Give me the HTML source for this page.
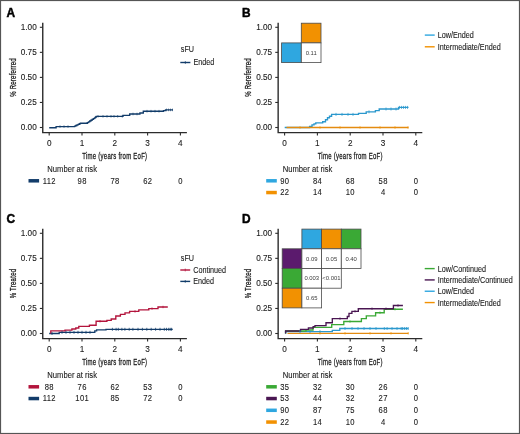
<!DOCTYPE html>
<html><head><meta charset="utf-8"><style>
html,body{margin:0;padding:0;background:#fff;}
body{width:520px;height:434px;overflow:hidden;}
svg{display:block;font-family:"Liberation Sans", sans-serif;}
#w{width:520px;height:434px;will-change:transform;opacity:0.999;}
text{stroke:#1a1a1a;stroke-width:0.1px;}
</style></head><body>
<div id="w"><svg width="520" height="434" viewBox="0 0 520 434">
<g>
<rect x="0" y="0" width="520" height="434" fill="#fff"/>
<g transform="translate(0,0)">
<text x="6.6" y="16.5" font-size="11.9" font-weight="bold" fill="#000" style="stroke:#000;stroke-width:0.45px">A</text>
<path d="M42.75 22.7 V132.6 H186.9" fill="none" stroke="#2c2c2c" stroke-width="1.4"/>
<path d="M39.85 127.5 H42.75" stroke="#2c2c2c" stroke-width="1.1"/>
<text x="36.7" y="130.45" font-size="8.2" text-anchor="end" fill="#1a1a1a">0.00</text>
<path d="M39.85 102.45 H42.75" stroke="#2c2c2c" stroke-width="1.1"/>
<text x="36.7" y="105.4" font-size="8.2" text-anchor="end" fill="#1a1a1a">0.25</text>
<path d="M39.85 77.4 H42.75" stroke="#2c2c2c" stroke-width="1.1"/>
<text x="36.7" y="80.35000000000001" font-size="8.2" text-anchor="end" fill="#1a1a1a">0.50</text>
<path d="M39.85 52.349999999999994 H42.75" stroke="#2c2c2c" stroke-width="1.1"/>
<text x="36.7" y="55.3" font-size="8.2" text-anchor="end" fill="#1a1a1a">0.75</text>
<path d="M39.85 27.299999999999997 H42.75" stroke="#2c2c2c" stroke-width="1.1"/>
<text x="36.7" y="30.249999999999996" font-size="8.2" text-anchor="end" fill="#1a1a1a">1.00</text>
<path d="M49.2 132.6 V135.6" stroke="#2c2c2c" stroke-width="1.1"/>
<text x="49.2" y="145.9" font-size="8.2" text-anchor="middle" fill="#1a1a1a">0</text>
<path d="M82.0 132.6 V135.6" stroke="#2c2c2c" stroke-width="1.1"/>
<text x="82.0" y="145.9" font-size="8.2" text-anchor="middle" fill="#1a1a1a">1</text>
<path d="M114.8 132.6 V135.6" stroke="#2c2c2c" stroke-width="1.1"/>
<text x="114.8" y="145.9" font-size="8.2" text-anchor="middle" fill="#1a1a1a">2</text>
<path d="M147.6 132.6 V135.6" stroke="#2c2c2c" stroke-width="1.1"/>
<text x="147.6" y="145.9" font-size="8.2" text-anchor="middle" fill="#1a1a1a">3</text>
<path d="M180.39999999999998 132.6 V135.6" stroke="#2c2c2c" stroke-width="1.1"/>
<text x="180.39999999999998" y="145.9" font-size="8.2" text-anchor="middle" fill="#1a1a1a">4</text>
<text transform="translate(114.8,159.0) scale(0.6067,1)" font-size="9.9" letter-spacing="0.42" style="stroke-width:0.3px" text-anchor="middle" fill="#1a1a1a">Time (years from EoF)</text>
<text transform="translate(15.8,77.5) rotate(-90) scale(0.607,1)" font-size="9.9" letter-spacing="0.42" style="stroke-width:0.3px" text-anchor="middle" fill="#1a1a1a">% Rereferred</text>
<text transform="translate(47.3,171.6) scale(0.928,1)" font-size="8.25" fill="#1a1a1a">Number at risk</text>
<rect x="28.5" y="179.05" width="10.6" height="3.5" fill="#123c6a"/>
<text transform="translate(49.37,183.70) scale(0.93,1)" font-size="8.2" letter-spacing="0.38" text-anchor="middle" fill="#1a1a1a">112</text>
<text transform="translate(82.17,183.70) scale(0.93,1)" font-size="8.2" letter-spacing="0.38" text-anchor="middle" fill="#1a1a1a">98</text>
<text transform="translate(114.97,183.70) scale(0.93,1)" font-size="8.2" letter-spacing="0.38" text-anchor="middle" fill="#1a1a1a">78</text>
<text transform="translate(147.77,183.70) scale(0.93,1)" font-size="8.2" letter-spacing="0.38" text-anchor="middle" fill="#1a1a1a">62</text>
<text transform="translate(180.57,183.70) scale(0.93,1)" font-size="8.2" letter-spacing="0.38" text-anchor="middle" fill="#1a1a1a">0</text>
</g>
<g transform="translate(235.4,0)">
<text x="6.6" y="16.5" font-size="11.9" font-weight="bold" fill="#000" style="stroke:#000;stroke-width:0.45px">B</text>
<path d="M42.75 22.7 V132.6 H186.9" fill="none" stroke="#2c2c2c" stroke-width="1.4"/>
<path d="M39.85 127.5 H42.75" stroke="#2c2c2c" stroke-width="1.1"/>
<text x="36.7" y="130.45" font-size="8.2" text-anchor="end" fill="#1a1a1a">0.00</text>
<path d="M39.85 102.45 H42.75" stroke="#2c2c2c" stroke-width="1.1"/>
<text x="36.7" y="105.4" font-size="8.2" text-anchor="end" fill="#1a1a1a">0.25</text>
<path d="M39.85 77.4 H42.75" stroke="#2c2c2c" stroke-width="1.1"/>
<text x="36.7" y="80.35000000000001" font-size="8.2" text-anchor="end" fill="#1a1a1a">0.50</text>
<path d="M39.85 52.349999999999994 H42.75" stroke="#2c2c2c" stroke-width="1.1"/>
<text x="36.7" y="55.3" font-size="8.2" text-anchor="end" fill="#1a1a1a">0.75</text>
<path d="M39.85 27.299999999999997 H42.75" stroke="#2c2c2c" stroke-width="1.1"/>
<text x="36.7" y="30.249999999999996" font-size="8.2" text-anchor="end" fill="#1a1a1a">1.00</text>
<path d="M49.2 132.6 V135.6" stroke="#2c2c2c" stroke-width="1.1"/>
<text x="49.2" y="145.9" font-size="8.2" text-anchor="middle" fill="#1a1a1a">0</text>
<path d="M82.0 132.6 V135.6" stroke="#2c2c2c" stroke-width="1.1"/>
<text x="82.0" y="145.9" font-size="8.2" text-anchor="middle" fill="#1a1a1a">1</text>
<path d="M114.8 132.6 V135.6" stroke="#2c2c2c" stroke-width="1.1"/>
<text x="114.8" y="145.9" font-size="8.2" text-anchor="middle" fill="#1a1a1a">2</text>
<path d="M147.6 132.6 V135.6" stroke="#2c2c2c" stroke-width="1.1"/>
<text x="147.6" y="145.9" font-size="8.2" text-anchor="middle" fill="#1a1a1a">3</text>
<path d="M180.39999999999998 132.6 V135.6" stroke="#2c2c2c" stroke-width="1.1"/>
<text x="180.39999999999998" y="145.9" font-size="8.2" text-anchor="middle" fill="#1a1a1a">4</text>
<text transform="translate(114.8,159.0) scale(0.6067,1)" font-size="9.9" letter-spacing="0.42" style="stroke-width:0.3px" text-anchor="middle" fill="#1a1a1a">Time (years from EoF)</text>
<text transform="translate(15.8,77.5) rotate(-90) scale(0.607,1)" font-size="9.9" letter-spacing="0.42" style="stroke-width:0.3px" text-anchor="middle" fill="#1a1a1a">% Rereferred</text>
<text transform="translate(47.3,171.6) scale(0.928,1)" font-size="8.25" fill="#1a1a1a">Number at risk</text>
<rect x="30.8" y="179.05" width="10.6" height="3.5" fill="#2fa7e0"/>
<text transform="translate(49.37,183.70) scale(0.93,1)" font-size="8.2" letter-spacing="0.38" text-anchor="middle" fill="#1a1a1a">90</text>
<text transform="translate(82.17,183.70) scale(0.93,1)" font-size="8.2" letter-spacing="0.38" text-anchor="middle" fill="#1a1a1a">84</text>
<text transform="translate(114.97,183.70) scale(0.93,1)" font-size="8.2" letter-spacing="0.38" text-anchor="middle" fill="#1a1a1a">68</text>
<text transform="translate(147.77,183.70) scale(0.93,1)" font-size="8.2" letter-spacing="0.38" text-anchor="middle" fill="#1a1a1a">58</text>
<text transform="translate(180.57,183.70) scale(0.93,1)" font-size="8.2" letter-spacing="0.38" text-anchor="middle" fill="#1a1a1a">0</text>
<rect x="30.8" y="190.8" width="10.6" height="3.5" fill="#f29100"/>
<text transform="translate(49.37,195.45) scale(0.93,1)" font-size="8.2" letter-spacing="0.38" text-anchor="middle" fill="#1a1a1a">22</text>
<text transform="translate(82.17,195.45) scale(0.93,1)" font-size="8.2" letter-spacing="0.38" text-anchor="middle" fill="#1a1a1a">14</text>
<text transform="translate(114.97,195.45) scale(0.93,1)" font-size="8.2" letter-spacing="0.38" text-anchor="middle" fill="#1a1a1a">10</text>
<text transform="translate(147.77,195.45) scale(0.93,1)" font-size="8.2" letter-spacing="0.38" text-anchor="middle" fill="#1a1a1a">4</text>
<text transform="translate(180.57,195.45) scale(0.93,1)" font-size="8.2" letter-spacing="0.38" text-anchor="middle" fill="#1a1a1a">0</text>
</g>
<g transform="translate(0,206.0)">
<text x="6.6" y="16.5" font-size="11.9" font-weight="bold" fill="#000" style="stroke:#000;stroke-width:0.45px">C</text>
<path d="M42.75 22.7 V132.6 H186.9" fill="none" stroke="#2c2c2c" stroke-width="1.4"/>
<path d="M39.85 127.5 H42.75" stroke="#2c2c2c" stroke-width="1.1"/>
<text x="36.7" y="130.45" font-size="8.2" text-anchor="end" fill="#1a1a1a">0.00</text>
<path d="M39.85 102.45 H42.75" stroke="#2c2c2c" stroke-width="1.1"/>
<text x="36.7" y="105.4" font-size="8.2" text-anchor="end" fill="#1a1a1a">0.25</text>
<path d="M39.85 77.4 H42.75" stroke="#2c2c2c" stroke-width="1.1"/>
<text x="36.7" y="80.35000000000001" font-size="8.2" text-anchor="end" fill="#1a1a1a">0.50</text>
<path d="M39.85 52.349999999999994 H42.75" stroke="#2c2c2c" stroke-width="1.1"/>
<text x="36.7" y="55.3" font-size="8.2" text-anchor="end" fill="#1a1a1a">0.75</text>
<path d="M39.85 27.299999999999997 H42.75" stroke="#2c2c2c" stroke-width="1.1"/>
<text x="36.7" y="30.249999999999996" font-size="8.2" text-anchor="end" fill="#1a1a1a">1.00</text>
<path d="M49.2 132.6 V135.6" stroke="#2c2c2c" stroke-width="1.1"/>
<text x="49.2" y="145.9" font-size="8.2" text-anchor="middle" fill="#1a1a1a">0</text>
<path d="M82.0 132.6 V135.6" stroke="#2c2c2c" stroke-width="1.1"/>
<text x="82.0" y="145.9" font-size="8.2" text-anchor="middle" fill="#1a1a1a">1</text>
<path d="M114.8 132.6 V135.6" stroke="#2c2c2c" stroke-width="1.1"/>
<text x="114.8" y="145.9" font-size="8.2" text-anchor="middle" fill="#1a1a1a">2</text>
<path d="M147.6 132.6 V135.6" stroke="#2c2c2c" stroke-width="1.1"/>
<text x="147.6" y="145.9" font-size="8.2" text-anchor="middle" fill="#1a1a1a">3</text>
<path d="M180.39999999999998 132.6 V135.6" stroke="#2c2c2c" stroke-width="1.1"/>
<text x="180.39999999999998" y="145.9" font-size="8.2" text-anchor="middle" fill="#1a1a1a">4</text>
<text transform="translate(114.8,159.0) scale(0.6067,1)" font-size="9.9" letter-spacing="0.42" style="stroke-width:0.3px" text-anchor="middle" fill="#1a1a1a">Time (years from EoF)</text>
<text transform="translate(15.8,77.5) rotate(-90) scale(0.607,1)" font-size="9.9" letter-spacing="0.42" style="stroke-width:0.3px" text-anchor="middle" fill="#1a1a1a">% Treated</text>
<text transform="translate(47.3,171.6) scale(0.928,1)" font-size="8.25" fill="#1a1a1a">Number at risk</text>
<rect x="28.5" y="179.05" width="10.6" height="3.5" fill="#b3143c"/>
<text transform="translate(49.37,183.70) scale(0.93,1)" font-size="8.2" letter-spacing="0.38" text-anchor="middle" fill="#1a1a1a">88</text>
<text transform="translate(82.17,183.70) scale(0.93,1)" font-size="8.2" letter-spacing="0.38" text-anchor="middle" fill="#1a1a1a">76</text>
<text transform="translate(114.97,183.70) scale(0.93,1)" font-size="8.2" letter-spacing="0.38" text-anchor="middle" fill="#1a1a1a">62</text>
<text transform="translate(147.77,183.70) scale(0.93,1)" font-size="8.2" letter-spacing="0.38" text-anchor="middle" fill="#1a1a1a">53</text>
<text transform="translate(180.57,183.70) scale(0.93,1)" font-size="8.2" letter-spacing="0.38" text-anchor="middle" fill="#1a1a1a">0</text>
<rect x="28.5" y="190.8" width="10.6" height="3.5" fill="#123c6a"/>
<text transform="translate(49.37,195.45) scale(0.93,1)" font-size="8.2" letter-spacing="0.38" text-anchor="middle" fill="#1a1a1a">112</text>
<text transform="translate(82.17,195.45) scale(0.93,1)" font-size="8.2" letter-spacing="0.38" text-anchor="middle" fill="#1a1a1a">101</text>
<text transform="translate(114.97,195.45) scale(0.93,1)" font-size="8.2" letter-spacing="0.38" text-anchor="middle" fill="#1a1a1a">85</text>
<text transform="translate(147.77,195.45) scale(0.93,1)" font-size="8.2" letter-spacing="0.38" text-anchor="middle" fill="#1a1a1a">72</text>
<text transform="translate(180.57,195.45) scale(0.93,1)" font-size="8.2" letter-spacing="0.38" text-anchor="middle" fill="#1a1a1a">0</text>
</g>
<g transform="translate(235.4,206.0)">
<text x="6.6" y="16.5" font-size="11.9" font-weight="bold" fill="#000" style="stroke:#000;stroke-width:0.45px">D</text>
<path d="M42.75 22.7 V132.6 H186.9" fill="none" stroke="#2c2c2c" stroke-width="1.4"/>
<path d="M39.85 127.5 H42.75" stroke="#2c2c2c" stroke-width="1.1"/>
<text x="36.7" y="130.45" font-size="8.2" text-anchor="end" fill="#1a1a1a">0.00</text>
<path d="M39.85 102.45 H42.75" stroke="#2c2c2c" stroke-width="1.1"/>
<text x="36.7" y="105.4" font-size="8.2" text-anchor="end" fill="#1a1a1a">0.25</text>
<path d="M39.85 77.4 H42.75" stroke="#2c2c2c" stroke-width="1.1"/>
<text x="36.7" y="80.35000000000001" font-size="8.2" text-anchor="end" fill="#1a1a1a">0.50</text>
<path d="M39.85 52.349999999999994 H42.75" stroke="#2c2c2c" stroke-width="1.1"/>
<text x="36.7" y="55.3" font-size="8.2" text-anchor="end" fill="#1a1a1a">0.75</text>
<path d="M39.85 27.299999999999997 H42.75" stroke="#2c2c2c" stroke-width="1.1"/>
<text x="36.7" y="30.249999999999996" font-size="8.2" text-anchor="end" fill="#1a1a1a">1.00</text>
<path d="M49.2 132.6 V135.6" stroke="#2c2c2c" stroke-width="1.1"/>
<text x="49.2" y="145.9" font-size="8.2" text-anchor="middle" fill="#1a1a1a">0</text>
<path d="M82.0 132.6 V135.6" stroke="#2c2c2c" stroke-width="1.1"/>
<text x="82.0" y="145.9" font-size="8.2" text-anchor="middle" fill="#1a1a1a">1</text>
<path d="M114.8 132.6 V135.6" stroke="#2c2c2c" stroke-width="1.1"/>
<text x="114.8" y="145.9" font-size="8.2" text-anchor="middle" fill="#1a1a1a">2</text>
<path d="M147.6 132.6 V135.6" stroke="#2c2c2c" stroke-width="1.1"/>
<text x="147.6" y="145.9" font-size="8.2" text-anchor="middle" fill="#1a1a1a">3</text>
<path d="M180.39999999999998 132.6 V135.6" stroke="#2c2c2c" stroke-width="1.1"/>
<text x="180.39999999999998" y="145.9" font-size="8.2" text-anchor="middle" fill="#1a1a1a">4</text>
<text transform="translate(114.8,159.0) scale(0.6067,1)" font-size="9.9" letter-spacing="0.42" style="stroke-width:0.3px" text-anchor="middle" fill="#1a1a1a">Time (years from EoF)</text>
<text transform="translate(15.8,77.5) rotate(-90) scale(0.607,1)" font-size="9.9" letter-spacing="0.42" style="stroke-width:0.3px" text-anchor="middle" fill="#1a1a1a">% Treated</text>
<text transform="translate(47.3,171.6) scale(0.928,1)" font-size="8.25" fill="#1a1a1a">Number at risk</text>
<rect x="30.8" y="179.05" width="10.6" height="3.5" fill="#3aa935"/>
<text transform="translate(49.37,183.70) scale(0.93,1)" font-size="8.2" letter-spacing="0.38" text-anchor="middle" fill="#1a1a1a">35</text>
<text transform="translate(82.17,183.70) scale(0.93,1)" font-size="8.2" letter-spacing="0.38" text-anchor="middle" fill="#1a1a1a">32</text>
<text transform="translate(114.97,183.70) scale(0.93,1)" font-size="8.2" letter-spacing="0.38" text-anchor="middle" fill="#1a1a1a">30</text>
<text transform="translate(147.77,183.70) scale(0.93,1)" font-size="8.2" letter-spacing="0.38" text-anchor="middle" fill="#1a1a1a">26</text>
<text transform="translate(180.57,183.70) scale(0.93,1)" font-size="8.2" letter-spacing="0.38" text-anchor="middle" fill="#1a1a1a">0</text>
<rect x="30.8" y="190.8" width="10.6" height="3.5" fill="#4a1652"/>
<text transform="translate(49.37,195.45) scale(0.93,1)" font-size="8.2" letter-spacing="0.38" text-anchor="middle" fill="#1a1a1a">53</text>
<text transform="translate(82.17,195.45) scale(0.93,1)" font-size="8.2" letter-spacing="0.38" text-anchor="middle" fill="#1a1a1a">44</text>
<text transform="translate(114.97,195.45) scale(0.93,1)" font-size="8.2" letter-spacing="0.38" text-anchor="middle" fill="#1a1a1a">32</text>
<text transform="translate(147.77,195.45) scale(0.93,1)" font-size="8.2" letter-spacing="0.38" text-anchor="middle" fill="#1a1a1a">27</text>
<text transform="translate(180.57,195.45) scale(0.93,1)" font-size="8.2" letter-spacing="0.38" text-anchor="middle" fill="#1a1a1a">0</text>
<rect x="30.8" y="202.55" width="10.6" height="3.5" fill="#2fa7e0"/>
<text transform="translate(49.37,207.20) scale(0.93,1)" font-size="8.2" letter-spacing="0.38" text-anchor="middle" fill="#1a1a1a">90</text>
<text transform="translate(82.17,207.20) scale(0.93,1)" font-size="8.2" letter-spacing="0.38" text-anchor="middle" fill="#1a1a1a">87</text>
<text transform="translate(114.97,207.20) scale(0.93,1)" font-size="8.2" letter-spacing="0.38" text-anchor="middle" fill="#1a1a1a">75</text>
<text transform="translate(147.77,207.20) scale(0.93,1)" font-size="8.2" letter-spacing="0.38" text-anchor="middle" fill="#1a1a1a">68</text>
<text transform="translate(180.57,207.20) scale(0.93,1)" font-size="8.2" letter-spacing="0.38" text-anchor="middle" fill="#1a1a1a">0</text>
<rect x="30.8" y="214.3" width="10.6" height="3.5" fill="#f29100"/>
<text transform="translate(49.37,218.95) scale(0.93,1)" font-size="8.2" letter-spacing="0.38" text-anchor="middle" fill="#1a1a1a">22</text>
<text transform="translate(82.17,218.95) scale(0.93,1)" font-size="8.2" letter-spacing="0.38" text-anchor="middle" fill="#1a1a1a">14</text>
<text transform="translate(114.97,218.95) scale(0.93,1)" font-size="8.2" letter-spacing="0.38" text-anchor="middle" fill="#1a1a1a">10</text>
<text transform="translate(147.77,218.95) scale(0.93,1)" font-size="8.2" letter-spacing="0.38" text-anchor="middle" fill="#1a1a1a">4</text>
<text transform="translate(180.57,218.95) scale(0.93,1)" font-size="8.2" letter-spacing="0.38" text-anchor="middle" fill="#1a1a1a">0</text>
</g>
<path d="M49.2 127.7 H56.1 V126.60000000000001 H74.6 V126.10000000000001 H75.8 V125.5 H77.0 V124.9 H78.2 V124.3 H79.3 V123.7 H80.4 V123.2 H87.3 V122.60000000000001 H88.5 V121.8 H89.7 V121.0 H90.9 V120.2 H92.1 V119.4 H93.3 V118.60000000000001 H94.5 V117.8 H95.5 V117.0 H96.3 V116.3 H123.0 V115.3 H129.7 V114.0 H139.9 V113.0 H143.3 V111.2 H163.5 V110.60000000000001 H165.5 V109.9 H172.9" fill="none" stroke="#123c6a" stroke-width="1.35" />
<path d="M60 125.30 V127.90" stroke="#123c6a" stroke-width="0.6"/>
<path d="M64 125.30 V127.90" stroke="#123c6a" stroke-width="0.6"/>
<path d="M68 125.30 V127.90" stroke="#123c6a" stroke-width="0.6"/>
<path d="M98 115.00 V117.60" stroke="#123c6a" stroke-width="0.6"/>
<path d="M103 115.00 V117.60" stroke="#123c6a" stroke-width="0.6"/>
<path d="M107 115.00 V117.60" stroke="#123c6a" stroke-width="0.6"/>
<path d="M111 115.00 V117.60" stroke="#123c6a" stroke-width="0.6"/>
<path d="M114 115.00 V117.60" stroke="#123c6a" stroke-width="0.6"/>
<path d="M117.7 115.00 V117.60" stroke="#123c6a" stroke-width="0.6"/>
<path d="M122.3 115.00 V117.60" stroke="#123c6a" stroke-width="0.6"/>
<path d="M133 112.70 V115.30" stroke="#123c6a" stroke-width="0.6"/>
<path d="M137 112.70 V115.30" stroke="#123c6a" stroke-width="0.6"/>
<path d="M147 109.90 V112.50" stroke="#123c6a" stroke-width="0.6"/>
<path d="M151 109.90 V112.50" stroke="#123c6a" stroke-width="0.6"/>
<path d="M155 109.90 V112.50" stroke="#123c6a" stroke-width="0.6"/>
<path d="M159 109.90 V112.50" stroke="#123c6a" stroke-width="0.6"/>
<path d="M166.5 108.60 V111.20" stroke="#123c6a" stroke-width="0.6"/>
<path d="M168.5 108.60 V111.20" stroke="#123c6a" stroke-width="0.6"/>
<path d="M170.5 108.60 V111.20" stroke="#123c6a" stroke-width="0.6"/>
<path d="M172.5 108.60 V111.20" stroke="#123c6a" stroke-width="0.6"/>
<path d="M284.7 127.5 H309.6 V126.4 H312.0 V124.8 H314.0 V123.8 H315.8 V122.9 H322.7 V121.7 H325.5 V119.7 H327.5 V117.7 H329.5 V116.2 H331.6 V114.4 H358.5 V113.4 H366.2 V111.8 H375.4 V110.60000000000001 H379.2 V109.0 H398.5 V107.4 H408.5" fill="none" stroke="#2b98cd" stroke-width="1.35" />
<path d="M286.5 127.5 H408.5" fill="none" stroke="#e48b10" stroke-width="1.35" />
<path d="M336 112.90 V115.90" stroke="#2b98cd" stroke-width="0.75"/>
<path d="M342 112.90 V115.90" stroke="#2b98cd" stroke-width="0.75"/>
<path d="M348 112.90 V115.90" stroke="#2b98cd" stroke-width="0.75"/>
<path d="M353 112.90 V115.90" stroke="#2b98cd" stroke-width="0.75"/>
<path d="M369 110.30 V113.30" stroke="#2b98cd" stroke-width="0.75"/>
<path d="M386 107.50 V110.50" stroke="#2b98cd" stroke-width="0.75"/>
<path d="M391 107.50 V110.50" stroke="#2b98cd" stroke-width="0.75"/>
<path d="M396 107.50 V110.50" stroke="#2b98cd" stroke-width="0.75"/>
<path d="M399.5 105.90 V108.90" stroke="#2b98cd" stroke-width="0.75"/>
<path d="M401.5 105.90 V108.90" stroke="#2b98cd" stroke-width="0.75"/>
<path d="M403.5 105.90 V108.90" stroke="#2b98cd" stroke-width="0.75"/>
<path d="M405.5 105.90 V108.90" stroke="#2b98cd" stroke-width="0.75"/>
<path d="M407.5 105.90 V108.90" stroke="#2b98cd" stroke-width="0.75"/>
<path d="M300 126.30 V128.70" stroke="#f29100" stroke-width="0.75"/>
<path d="M320 126.30 V128.70" stroke="#f29100" stroke-width="0.75"/>
<path d="M340 126.30 V128.70" stroke="#f29100" stroke-width="0.75"/>
<path d="M360 126.30 V128.70" stroke="#f29100" stroke-width="0.75"/>
<path d="M380 126.30 V128.70" stroke="#f29100" stroke-width="0.75"/>
<path d="M395 126.30 V128.70" stroke="#f29100" stroke-width="0.75"/>
<path d="M408 126.30 V128.70" stroke="#f29100" stroke-width="0.75"/>
<path d="M49.2 333.5 H59.2 V332.3 H94.8 V330.8 H96.6 V329.8 H106.0 V329.3 H172.7" fill="none" stroke="#123c6a" stroke-width="1.35" />
<path d="M50.8 333.5 H50.8 V330.9 H65.0 V330.09999999999997 H71.9 V329.0 H75.8 V328.0 H78.8 V326.4 H89.4 V325.2 H96.1 V321.2 H106.9 V320.4 H111.2 V319.0 H115.8 V316.0 H120.4 V314.4 H125.0 V312.9 H129.6 V311.4 H138.8 V309.8 H148.8 V308.59999999999997 H158.0 V307.0 H167.8" fill="none" stroke="#b3143c" stroke-width="1.35" />
<path d="M52 332.00 V335.00" stroke="#123c6a" stroke-width="0.75"/>
<path d="M62 330.80 V333.80" stroke="#123c6a" stroke-width="0.75"/>
<path d="M66 330.80 V333.80" stroke="#123c6a" stroke-width="0.75"/>
<path d="M70 330.80 V333.80" stroke="#123c6a" stroke-width="0.75"/>
<path d="M74 330.80 V333.80" stroke="#123c6a" stroke-width="0.75"/>
<path d="M78 330.80 V333.80" stroke="#123c6a" stroke-width="0.75"/>
<path d="M82 330.80 V333.80" stroke="#123c6a" stroke-width="0.75"/>
<path d="M86 330.80 V333.80" stroke="#123c6a" stroke-width="0.75"/>
<path d="M90 330.80 V333.80" stroke="#123c6a" stroke-width="0.75"/>
<path d="M112.4 327.80 V330.80" stroke="#123c6a" stroke-width="0.75"/>
<path d="M116.1 327.80 V330.80" stroke="#123c6a" stroke-width="0.75"/>
<path d="M118.3 327.80 V330.80" stroke="#123c6a" stroke-width="0.75"/>
<path d="M121.9 327.80 V330.80" stroke="#123c6a" stroke-width="0.75"/>
<path d="M124.9 327.80 V330.80" stroke="#123c6a" stroke-width="0.75"/>
<path d="M129.2 327.80 V330.80" stroke="#123c6a" stroke-width="0.75"/>
<path d="M132.9 327.80 V330.80" stroke="#123c6a" stroke-width="0.75"/>
<path d="M138 327.80 V330.80" stroke="#123c6a" stroke-width="0.75"/>
<path d="M142.4 327.80 V330.80" stroke="#123c6a" stroke-width="0.75"/>
<path d="M146.8 327.80 V330.80" stroke="#123c6a" stroke-width="0.75"/>
<path d="M151.2 327.80 V330.80" stroke="#123c6a" stroke-width="0.75"/>
<path d="M155.6 327.80 V330.80" stroke="#123c6a" stroke-width="0.75"/>
<path d="M160 327.80 V330.80" stroke="#123c6a" stroke-width="0.75"/>
<path d="M164.3 327.80 V330.80" stroke="#123c6a" stroke-width="0.75"/>
<path d="M166.5 327.80 V330.80" stroke="#123c6a" stroke-width="0.75"/>
<path d="M168.7 327.80 V330.80" stroke="#123c6a" stroke-width="0.75"/>
<path d="M170.2 327.80 V330.80" stroke="#123c6a" stroke-width="0.75"/>
<path d="M171.6 327.80 V330.80" stroke="#123c6a" stroke-width="0.75"/>
<path d="M100 320.00 V322.40" stroke="#b3143c" stroke-width="0.75"/>
<path d="M135 310.20 V312.60" stroke="#b3143c" stroke-width="0.75"/>
<path d="M152 307.40 V309.80" stroke="#b3143c" stroke-width="0.75"/>
<path d="M163 305.80 V308.20" stroke="#b3143c" stroke-width="0.75"/>
<path d="M287.5 333.3 H408.4" fill="none" stroke="#e48b10" stroke-width="1.35" />
<path d="M285.6 333.5 H285.6 V331.59999999999997 H332.3 V330.4 H339.8 V328.5 H408.4" fill="none" stroke="#2b98cd" stroke-width="1.35" />
<path d="M285.6 333.5 H285.6 V331.0 H306.0 V330.0 H313.0 V327.3 H331.7 V324.59999999999997 H343.8 V321.5 H361.4 V318.59999999999997 H366.3 V315.8 H375.6 V312.7 H384.2 V309.2 H402.9" fill="none" stroke="#3aa935" stroke-width="1.35" />
<path d="M285.6 333.5 H285.6 V331.0 H300.5 V329.4 H308.4 V328.0 H313.2 V326.59999999999997 H315.0 V325.59999999999997 H326.0 V322.7 H332.3 V318.59999999999997 H347.3 V316.5 H349.0 V313.4 H351.9 V311.3 H358.3 V308.7 H393.4 V305.5 H402.9" fill="none" stroke="#4a1652" stroke-width="1.35" />
<path d="M300 330.10 V333.10" stroke="#2b98cd" stroke-width="0.75"/>
<path d="M310 330.10 V333.10" stroke="#2b98cd" stroke-width="0.75"/>
<path d="M320 330.10 V333.10" stroke="#2b98cd" stroke-width="0.75"/>
<path d="M345 327.00 V330.00" stroke="#2b98cd" stroke-width="0.75"/>
<path d="M352 327.00 V330.00" stroke="#2b98cd" stroke-width="0.75"/>
<path d="M358 327.00 V330.00" stroke="#2b98cd" stroke-width="0.75"/>
<path d="M364 327.00 V330.00" stroke="#2b98cd" stroke-width="0.75"/>
<path d="M370 327.00 V330.00" stroke="#2b98cd" stroke-width="0.75"/>
<path d="M376 327.00 V330.00" stroke="#2b98cd" stroke-width="0.75"/>
<path d="M384.3 327.00 V330.00" stroke="#2b98cd" stroke-width="0.75"/>
<path d="M387.1 327.00 V330.00" stroke="#2b98cd" stroke-width="0.75"/>
<path d="M392 327.00 V330.00" stroke="#2b98cd" stroke-width="0.75"/>
<path d="M397 327.00 V330.00" stroke="#2b98cd" stroke-width="0.75"/>
<path d="M401.2 327.00 V330.00" stroke="#2b98cd" stroke-width="0.75"/>
<path d="M402.6 327.00 V330.00" stroke="#2b98cd" stroke-width="0.75"/>
<path d="M404.6 327.00 V330.00" stroke="#2b98cd" stroke-width="0.75"/>
<path d="M406.5 327.00 V330.00" stroke="#2b98cd" stroke-width="0.75"/>
<path d="M408.2 327.00 V330.00" stroke="#2b98cd" stroke-width="0.75"/>
<path d="M320 332.10 V334.50" stroke="#f29100" stroke-width="0.75"/>
<path d="M345 332.10 V334.50" stroke="#f29100" stroke-width="0.75"/>
<path d="M370 332.10 V334.50" stroke="#f29100" stroke-width="0.75"/>
<path d="M391 332.10 V334.50" stroke="#f29100" stroke-width="0.75"/>
<path d="M408.2 332.10 V334.50" stroke="#f29100" stroke-width="0.75"/>
<path d="M340 317.40 V319.80" stroke="#4a1652" stroke-width="0.75"/>
<path d="M355 310.10 V312.50" stroke="#4a1652" stroke-width="0.75"/>
<path d="M372 307.50 V309.90" stroke="#4a1652" stroke-width="0.75"/>
<path d="M386 307.50 V309.90" stroke="#4a1652" stroke-width="0.75"/>
<path d="M398 304.30 V306.70" stroke="#4a1652" stroke-width="0.75"/>
<path d="M350 320.30 V322.70" stroke="#3aa935" stroke-width="0.75"/>
<path d="M380 311.50 V313.90" stroke="#3aa935" stroke-width="0.75"/>
<path d="M395 308.00 V310.40" stroke="#3aa935" stroke-width="0.75"/>
<text transform="translate(180.8,51.95) scale(0.882,1)" font-size="8.2" fill="#1a1a1a">sFU</text>
<path d="M180.3 62.5 H190.4" stroke="#123c6a" stroke-width="1.4"/><path d="M185.35 61.1 V63.9" stroke="#123c6a" stroke-width="0.7"/>
<text transform="translate(193.4,65.45) scale(0.882,1)" font-size="8.2" fill="#1a1a1a">Ended</text>
<text transform="translate(180.8,260.75) scale(0.882,1)" font-size="8.2" fill="#1a1a1a">sFU</text>
<path d="M180.3 270.0 H190.2" stroke="#b3143c" stroke-width="1.4"/><path d="M185.25 268.6 V271.4" stroke="#b3143c" stroke-width="0.7"/>
<text transform="translate(193.2,272.95) scale(0.882,1)" font-size="8.2" fill="#1a1a1a">Continued</text>
<path d="M180.3 281.4 H190.2" stroke="#123c6a" stroke-width="1.4"/><path d="M185.25 280.0 V282.79999999999995" stroke="#123c6a" stroke-width="0.7"/>
<text transform="translate(193.2,284.35) scale(0.882,1)" font-size="8.2" fill="#1a1a1a">Ended</text>
<path d="M424.8 35.1 H434.7" stroke="#2fa7e0" stroke-width="1.4"/>
<text transform="translate(437.7,38.25) scale(0.882,1)" font-size="8.2" fill="#1a1a1a">Low/Ended</text>
<path d="M424.8 46.8 H434.7" stroke="#f29100" stroke-width="1.4"/>
<text transform="translate(437.7,49.85) scale(0.882,1)" font-size="8.2" fill="#1a1a1a">Intermediate/Ended</text>
<path d="M424.7 268.6 H434.7" stroke="#3aa935" stroke-width="1.4"/>
<text transform="translate(437.8,271.65) scale(0.882,1)" font-size="8.2" fill="#1a1a1a">Low/Continued</text>
<path d="M424.7 279.92 H434.7" stroke="#4a1652" stroke-width="1.4"/>
<text transform="translate(437.8,282.97) scale(0.882,1)" font-size="8.2" fill="#1a1a1a">Intermediate/Continued</text>
<path d="M424.7 291.24 H434.7" stroke="#2fa7e0" stroke-width="1.4"/>
<text transform="translate(437.8,294.29) scale(0.882,1)" font-size="8.2" fill="#1a1a1a">Low/Ended</text>
<path d="M424.7 302.56 H434.7" stroke="#f29100" stroke-width="1.4"/>
<text transform="translate(437.8,305.61) scale(0.882,1)" font-size="8.2" fill="#1a1a1a">Intermediate/Ended</text>
<rect x="301.3" y="23.2" width="19.7" height="19.7" fill="#f29100" stroke="#4a4a4a" stroke-width="0.8"/>
<rect x="281.6" y="42.9" width="19.7" height="19.7" fill="#2fa7e0" stroke="#4a4a4a" stroke-width="0.8"/>
<rect x="301.3" y="42.9" width="19.7" height="19.7" fill="#fff" stroke="#4a4a4a" stroke-width="0.8"/><text x="311.15000000000003" y="54.75" font-size="5.9" text-anchor="middle" fill="#3a3a3a" style="stroke-width:0">0.11</text>
<rect x="301.9" y="229.1" width="19.7" height="19.7" fill="#2fa7e0" stroke="#4a4a4a" stroke-width="0.8"/>
<rect x="321.59999999999997" y="229.1" width="19.7" height="19.7" fill="#f29100" stroke="#4a4a4a" stroke-width="0.8"/>
<rect x="341.29999999999995" y="229.1" width="19.7" height="19.7" fill="#3aa935" stroke="#4a4a4a" stroke-width="0.8"/>
<rect x="282.2" y="248.79999999999998" width="19.7" height="19.7" fill="#5b1a6d" stroke="#4a4a4a" stroke-width="0.8"/>
<rect x="282.2" y="268.5" width="19.7" height="19.7" fill="#3aa935" stroke="#4a4a4a" stroke-width="0.8"/>
<rect x="282.2" y="288.2" width="19.7" height="19.7" fill="#f29100" stroke="#4a4a4a" stroke-width="0.8"/>
<rect x="301.9" y="248.79999999999998" width="19.7" height="19.7" fill="#fff" stroke="#4a4a4a" stroke-width="0.8"/><text x="311.75" y="260.65" font-size="5.9" text-anchor="middle" fill="#3a3a3a" style="stroke-width:0">0.09</text>
<rect x="321.59999999999997" y="248.79999999999998" width="19.7" height="19.7" fill="#fff" stroke="#4a4a4a" stroke-width="0.8"/><text x="331.45" y="260.65" font-size="5.9" text-anchor="middle" fill="#3a3a3a" style="stroke-width:0">0.05</text>
<rect x="341.29999999999995" y="248.79999999999998" width="19.7" height="19.7" fill="#fff" stroke="#4a4a4a" stroke-width="0.8"/><text x="351.15" y="260.65" font-size="5.9" text-anchor="middle" fill="#3a3a3a" style="stroke-width:0">0.40</text>
<rect x="301.9" y="268.5" width="19.7" height="19.7" fill="#fff" stroke="#4a4a4a" stroke-width="0.8"/><text x="311.75" y="280.35" font-size="5.9" text-anchor="middle" fill="#3a3a3a" style="stroke-width:0">0.003</text>
<rect x="321.59999999999997" y="268.5" width="19.7" height="19.7" fill="#fff" stroke="#4a4a4a" stroke-width="0.8"/><text x="331.45" y="280.35" font-size="5.9" text-anchor="middle" fill="#3a3a3a" style="stroke-width:0">&lt;0.001</text>
<rect x="301.9" y="288.2" width="19.7" height="19.7" fill="#fff" stroke="#4a4a4a" stroke-width="0.8"/><text x="311.75" y="300.05" font-size="5.9" text-anchor="middle" fill="#3a3a3a" style="stroke-width:0">0.65</text>
</g>
<rect x="0.5" y="0.5" width="519" height="433" fill="none" stroke="#555" stroke-width="1.2"/>
</svg></div>
</body></html>
